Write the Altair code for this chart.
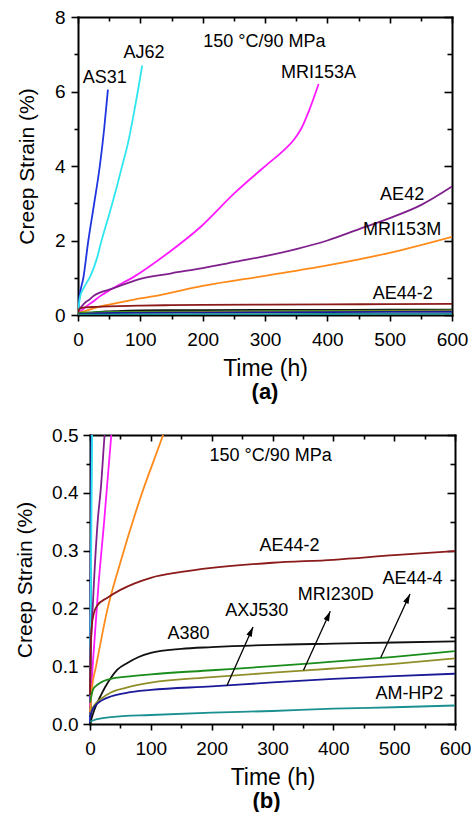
import altair as alt
import pandas as pd

FONT = "Liberation Sans"

# ---------------- data ----------------
AS31_t = [0, 1, 2.5, 8.6, 16.6, 26, 35, 42, 48]
AS31_s = [0, 0.25, 0.5, 1.0, 2.0, 3.0, 4.0, 5.0, 6.05]

AJ62_t = [0, 3.5, 10, 20, 30, 37, 50, 60, 70, 80, 90, 97, 103]
AJ62_s = [0.05, 0.5, 0.75, 1.05, 1.5, 1.95, 2.7, 3.3, 3.95, 4.6, 5.45, 6.1, 6.7]

MRI153A_t = [0, 5, 13.6, 23.3, 35, 50, 90, 144, 197, 251, 304, 330, 347, 358, 371, 386]
MRI153A_s = [0.03, 0.11, 0.236, 0.351, 0.5, 0.66, 1.03, 1.66, 2.37, 3.27, 4.05, 4.42, 4.72, 5.0, 5.5, 6.2]

AE42_t = [0, 1, 3, 6, 12.6, 18, 24, 35, 50, 100, 150, 200, 250, 300, 350, 400, 450, 500, 550, 600]
AE42_s = [0.05, 0.12, 0.17, 0.235, 0.35, 0.41, 0.5, 0.6, 0.68, 0.97, 1.12, 1.26, 1.42, 1.58, 1.77, 2.0, 2.3, 2.6, 2.95, 3.45]

MRI153M_t = [0, 3, 10, 29, 50, 84, 120, 200, 300, 400, 500, 600]
MRI153M_s = [0.02, 0.06, 0.1, 0.2, 0.28, 0.395, 0.5, 0.78, 1.05, 1.33, 1.67, 2.1]

AE44_2_t = [0, 1, 3, 6, 12, 28, 50, 100, 150, 200, 300, 400, 500, 600]
AE44_2_s = [0.05, 0.13, 0.17, 0.19, 0.205, 0.218, 0.232, 0.253, 0.263, 0.27, 0.279, 0.284, 0.292, 0.299]

A380_t = [0, 5, 10, 18, 25, 34.5, 45, 62, 80, 100, 150, 200, 300, 400, 500, 600]
A380_s = [0, 0.018, 0.032, 0.05, 0.064, 0.08, 0.094, 0.106, 0.116, 0.123, 0.13, 0.133, 0.137, 0.139, 0.141, 0.143]

AE44_4_t = [0, 5, 10, 18, 30, 60, 100, 200, 300, 400, 500, 600]
AE44_4_s = [0.037, 0.06, 0.066, 0.072, 0.077, 0.082, 0.086, 0.093, 0.1, 0.108, 0.116, 0.126]

MRI230D_t = [0, 3, 10, 20, 35, 60, 100, 200, 300, 400, 500, 600]
MRI230D_s = [0.015, 0.025, 0.036, 0.045, 0.055, 0.063, 0.0715, 0.081, 0.0888, 0.096, 0.104, 0.1137]

AXJ530_t = [0, 3, 8, 18, 35, 60, 100, 200, 300, 400, 500, 600]
AXJ530_s = [0.012, 0.022, 0.031, 0.04, 0.048, 0.054, 0.059, 0.065, 0.072, 0.078, 0.083, 0.087]

AMHP2_t = [0, 10, 35, 100, 200, 300, 400, 500, 600]
AMHP2_s = [0.004, 0.008, 0.012, 0.0156, 0.0196, 0.0225, 0.0265, 0.029, 0.032]

NAMES = ["AS31", "AJ62", "MRI153A", "AE42", "MRI153M", "AE44-2",
         "A380", "AE44-4", "MRI230D", "AXJ530", "AM-HP2"]
SERIES = [(AS31_t, AS31_s), (AJ62_t, AJ62_s), (MRI153A_t, MRI153A_s),
          (AE42_t, AE42_s), (MRI153M_t, MRI153M_s), (AE44_2_t, AE44_2_s),
          (A380_t, A380_s), (AE44_4_t, AE44_4_s), (MRI230D_t, MRI230D_s),
          (AXJ530_t, AXJ530_s), (AMHP2_t, AMHP2_s)]
COLORS = ["#1f35e0", "#2ee6f0", "#ff1aff", "#7f1f8c", "#ff8a1a", "#8b1a1a",
          "#111111", "#1a8c1a", "#8f8f2a", "#1a1a99", "#1a9090"]

XMAJ = [0, 100, 200, 300, 400, 500, 600]
XMIN = [50, 150, 250, 350, 450, 550]
YMAJ_A = [0, 2, 4, 6, 8]
YMIN_A = [1, 3, 5, 7]
YMAJ_B = [0, 0.1, 0.2, 0.3, 0.4, 0.5]
YMIN_B = [0.05, 0.15, 0.25, 0.35, 0.45]

COND = "150 °C/90 MPa"
LAB_A = ["AS31", "AJ62", COND, "MRI153A", "AE42", "MRI153M", "AE44-2"]
LAB_A_t = [43, 106, 299, 386, 520, 520, 521]
LAB_A_s = [6.37, 7.04, 7.34, 6.50, 3.22, 2.28, 0.56]

LAB_B = ["AE44-2", "AE44-4", "MRI230D", "AXJ530", "A380", "AM-HP2", COND]
LAB_B_t = [328, 530, 404, 274, 162, 525, 297]
LAB_B_s = [0.308, 0.251, 0.223, 0.195, 0.156, 0.0525, 0.464]

ARR_t = [225, 351, 478]
ARR_s = [0.066, 0.093, 0.115]
ARR_t2 = [268, 395, 526]
ARR_s2 = [0.168, 0.195, 0.225]
ARR_ang = [24, 24, 25]

# ---------------- tables ----------------
rows = []
for name, (ts, ss) in zip(NAMES, SERIES):
    for i, (t, s) in enumerate(zip(ts, ss)):
        rows.append({"series": name, "t": t, "s": s, "i": i})
df = pd.DataFrame(rows)

lab_a = pd.DataFrame({"label": LAB_A, "t": LAB_A_t, "s": LAB_A_s})
lab_b = pd.DataFrame({"label": LAB_B, "t": LAB_B_t, "s": LAB_B_s})
arrows = pd.DataFrame({"t": ARR_t, "s": ARR_s, "t2": ARR_t2, "s2": ARR_s2, "ang": ARR_ang})

AX = dict(grid=False, tickColor="black", tickWidth=1.6, domainColor="black",
          domainWidth=2, domainCap="square",
          labelColor="black", titleColor="black", labelFont=FONT, titleFont=FONT)


def panel(ymax, ymaj, ymin, yfmt, W, H, x0, tpad, lpad, labels, tag, with_arrows):
    # x0: left inset of the frame inside the view (so both panels can share one origin)
    xs = alt.Scale(domain=[0, 600], range=[x0, W], nice=False, zero=False)
    ys = alt.Scale(domain=[0, ymax], nice=False, zero=False)
    base = alt.Chart(df)

    lines = base.mark_line(strokeWidth=1.8, clip=True, interpolate="monotone").encode(
        x=alt.X("t:Q", scale=xs, axis=alt.Axis(
            orient="bottom", values=XMAJ, tickSize=6, labelPadding=9, labelFontSize=19,
            labelFlush=False, labelOverlap=False, title="Time (h)", titleFontSize=23,
            titlePadding=8, titleFontWeight="normal", domain=True, **AX)),
        y=alt.Y("s:Q", scale=ys, axis=alt.Axis(
            orient="left", offset=-x0, values=ymaj, format=yfmt, tickSize=7, labelPadding=lpad,
            labelFontSize=19, labelFlush=False, labelOverlap=False,
            title="Creep Strain (%)", titleFontSize=21, titlePadding=tpad,
            titleFontWeight="normal", domain=True, **AX)),
        color=alt.Color("series:N", scale=alt.Scale(domain=NAMES, range=COLORS), legend=None),
        order=alt.Order("i:Q"),
    )

    # invisible layers carrying the extra tick sets (minor ticks, mirrored inward ticks)
    def ghost(xaxis, yaxis):
        return base.transform_filter(alt.datum.s <= ymax).mark_line(
            strokeOpacity=0, clip=True).encode(
            x=alt.X("t:Q", scale=xs, axis=xaxis),
            y=alt.Y("s:Q", scale=ys, axis=yaxis),
            detail="series:N",
        )

    minor = ghost(
        alt.Axis(orient="bottom", values=XMIN, tickSize=4, labels=False, title=None, domain=False, **AX),
        alt.Axis(orient="left", offset=-x0, values=ymin, tickSize=4, labels=False, title=None, domain=False, **AX))
    inner_major = ghost(
        alt.Axis(orient="bottom", offset=-H, values=XMAJ, tickSize=6, labels=False, title=None, domain=True, **AX),
        alt.Axis(orient="left", offset=-W, values=ymaj, tickSize=8, labels=False, title=None, domain=True, **AX))
    inner_minor = ghost(
        alt.Axis(orient="bottom", offset=-H, values=XMIN, tickSize=4, labels=False, title=None, domain=False, **AX),
        alt.Axis(orient="left", offset=-W, values=ymin, tickSize=5, labels=False, title=None, domain=False, **AX))

    text = alt.Chart(labels).mark_text(font=FONT, fontSize=18, color="black").encode(
        x=alt.X("t:Q", scale=xs, axis=None),
        y=alt.Y("s:Q", scale=ys, axis=None),
        text="label:N",
    )

    layers = [lines, minor, inner_major, inner_minor, text]
    if with_arrows:
        rule = alt.Chart(arrows).mark_rule(color="black", strokeWidth=1.3).encode(
            x=alt.X("t:Q", scale=xs, axis=None), x2="t2:Q",
            y=alt.Y("s:Q", scale=ys, axis=None), y2="s2:Q")
        head = alt.Chart(arrows).mark_point(
            shape="M0,0L0.3,1L-0.3,1Z", filled=True, color="black", size=380, opacity=1
        ).encode(
            x=alt.X("t2:Q", scale=xs, axis=None),
            y=alt.Y("s2:Q", scale=ys, axis=None),
            angle=alt.Angle("ang:Q", scale=None))
        layers += [rule, head]

    return alt.layer(*layers).resolve_axis(x="independent", y="independent").properties(
        width=W, height=H,
        title=alt.TitleParams(tag, orient="bottom", anchor="middle", fontSize=22,
                              fontWeight="bold", font=FONT, color="black", offset=2),
    )


pa = panel(8, YMAJ_A, YMIN_A, "d", 374, 298, 0, 17, 6, lab_a, "(a)", False)
pb = panel(0.5, YMAJ_B, YMIN_B, ".1f", 377, 289, 12, 16, 5, lab_b, "(b)", True)

chart = alt.concat(pa, pb, columns=1, spacing=23).properties(
    padding={"left": 14, "top": 8, "right": 0, "bottom": 0},
    background="white",
).configure_view(strokeOpacity=0)

chart.save("out.html", embed_options={"renderer": "svg", "actions": False})
